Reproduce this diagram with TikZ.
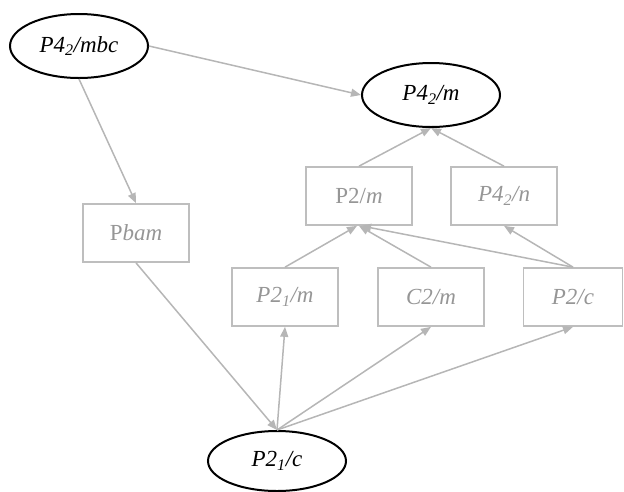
\documentclass[tikz,border=0pt]{standalone}
\usepackage{fontspec}
\setmainfont{Liberation Serif}
\usetikzlibrary{arrows.meta,shapes.geometric}
\definecolor{edgegray}{RGB}{182,182,182}
\definecolor{boxgray}{RGB}{190,190,190}
\definecolor{textgray}{RGB}{150,150,150}
\begin{document}
\begin{tikzpicture}[x=1pt,y=-1pt,
  grp/.style={ellipse,draw=black,line width=2pt,minimum width=138pt,minimum height=64pt,inner sep=0pt,font=\fontsize{23}{26}\selectfont},
  sub/.style={rectangle,draw=boxgray,line width=1.7pt,minimum width=106pt,minimum height=58pt,inner sep=0pt,text=textgray,font=\fontsize{23}{26}\selectfont},
  link/.style={draw=edgegray,line width=1.5pt,-{Triangle[length=10pt,width=8pt]}}]
\useasboundingbox (0,0) rectangle (624,491);

% Ellipses
\node[grp] (mbc) at (79,46) {\itshape P4\textsubscript{2}/mbc};
\node[grp] (top) at (431,95) {\itshape P4\textsubscript{2}/m};
\node[grp,minimum height=60pt] (bot) at (277,461) {\itshape P2\textsubscript{1}/c};

% Boxes
\node[sub] (pbam) at (136,233) {P\textit{bam}};
\node[sub] (p2m) at (359,196) {P2/\textit{m}};
\node[sub] (p4n) at (504,196) {\itshape P4\textsubscript{2}/n};
\node[sub] (p21m) at (285,297) {\itshape P2\textsubscript{1}/m};
\node[sub] (c2m) at (431,297) {\itshape C2/m};
\node[sub,minimum width=99pt] (p2c) at (573,297) {\itshape P2/c};

% Arrows
\draw[link] (mbc.east) -- (top.west);
\draw[link] (mbc.south) -- (pbam.north);
\draw[link] (p2m.north) -- (top.south);
\draw[link] (p4n.north) -- (top.south);
\draw[link] (p21m.north) -- ([xshift=-2pt]p2m.south);
\draw[link] (c2m.north) -- (p2m.south);
\draw[link] (p2c.north) -- ([xshift=2pt]p2m.south);
\draw[link] (p2c.north) -- (p4n.south);
\draw[link] (pbam.south) -- (bot.north);
\draw[link] (bot.north) -- (p21m.south);
\draw[link] (bot.north) -- (c2m.south);
\draw[link] (bot.north) -- (p2c.south);
\end{tikzpicture}
\end{document}
